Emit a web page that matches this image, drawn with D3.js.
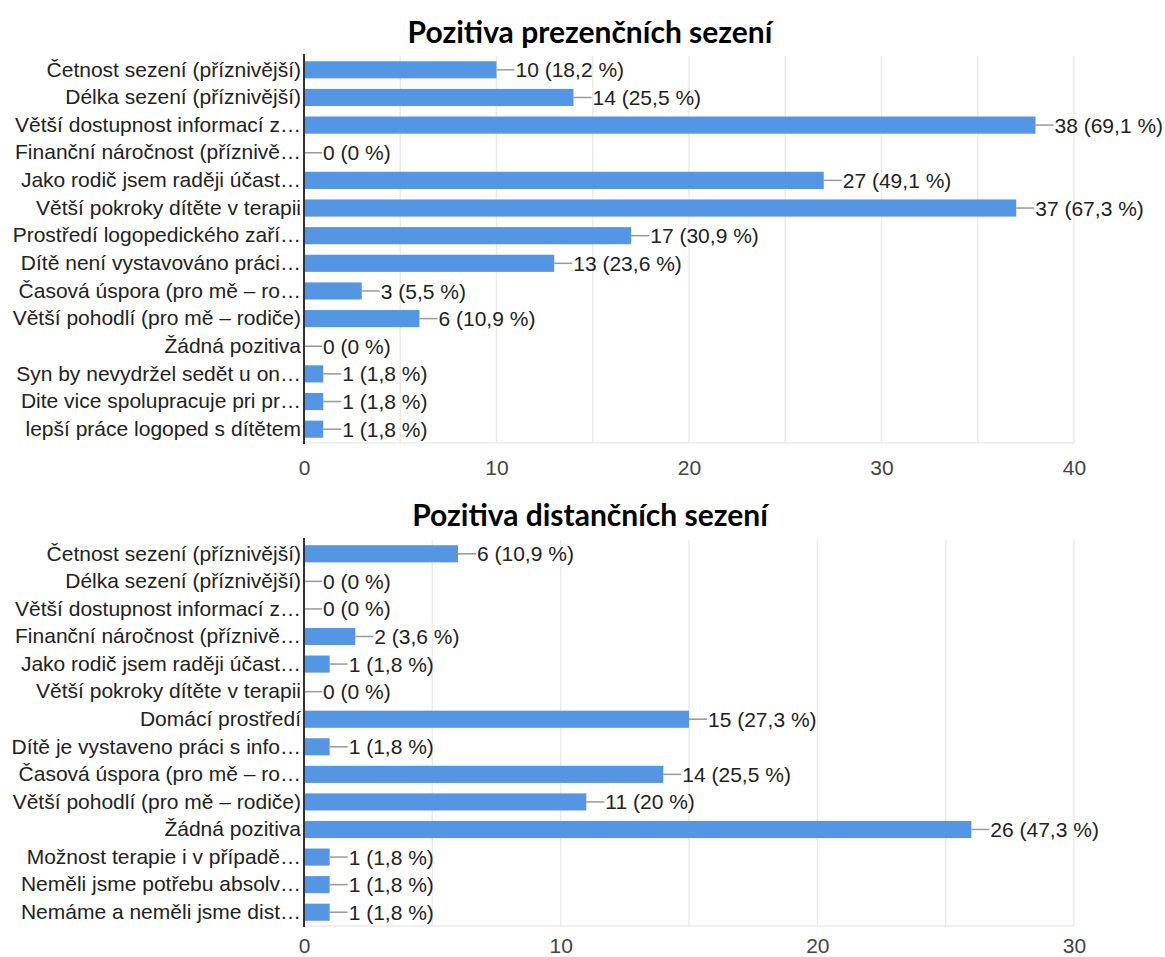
<!DOCTYPE html>
<html>
<head>
<meta charset="utf-8">
<script src="https://cdn.jsdelivr.net/npm/d3@7"></script>
<style>
  html, body { margin: 0; padding: 0; background: #ffffff; }
  svg { display: block; }
  .lbl { font-family: "Liberation Sans", Arimo, Arial, sans-serif; }
  .ttl { font-family: Lato, "Open Sans", sans-serif; font-weight: 700; }
</style>
</head>
<body>
<svg id="chart" width="1165" height="957"></svg>
<script>
// ---------- DATA ----------
const titlePrez = "Pozitiva prezenčních sezení";
const categoriesPrez = [
  "Četnost sezení (příznivější)",
  "Délka sezení (příznivější)",
  "Větší dostupnost informací z…",
  "Finanční náročnost (příznivě…",
  "Jako rodič jsem raději účast…",
  "Větší pokroky dítěte v terapii",
  "Prostředí logopedického zaří…",
  "Dítě není vystavováno práci…",
  "Časová úspora (pro mě – ro…",
  "Větší pohodlí (pro mě – rodiče)",
  "Žádná pozitiva",
  "Syn by nevydržel sedět u on…",
  "Dite vice spolupracuje pri pr…",
  "lepší práce logoped s dítětem"
];
const valuesPrez = [10, 14, 38, 0, 27, 37, 17, 13, 3, 6, 0, 1, 1, 1];
const percentPrez = ["18,2", "25,5", "69,1", "0", "49,1", "67,3", "30,9", "23,6", "5,5", "10,9", "0", "1,8", "1,8", "1,8"];
const ticksPrez = [0, 10, 20, 30, 40];

const titleDist = "Pozitiva distančních sezení";
const categoriesDist = [
  "Četnost sezení (příznivější)",
  "Délka sezení (příznivější)",
  "Větší dostupnost informací z…",
  "Finanční náročnost (příznivě…",
  "Jako rodič jsem raději účast…",
  "Větší pokroky dítěte v terapii",
  "Domácí prostředí",
  "Dítě je vystaveno práci s info…",
  "Časová úspora (pro mě – ro…",
  "Větší pohodlí (pro mě – rodiče)",
  "Žádná pozitiva",
  "Možnost terapie i v případě…",
  "Neměli jsme potřebu absolv…",
  "Nemáme a neměli jsme dist…"
];
const valuesDist = [6, 0, 0, 2, 1, 0, 15, 1, 14, 11, 26, 1, 1, 1];
const percentDist = ["10,9", "0", "0", "3,6", "1,8", "0", "27,3", "1,8", "25,5", "20", "47,3", "1,8", "1,8", "1,8"];
const ticksDist = [0, 10, 20, 30];

// ---------- DRAW ----------
const svg = d3.select("#chart");
const BAR = "#5596e4";
const FS = 21;

function drawChart(cfg) {
  const g = svg.append("g");
  const x = d3.scaleLinear().domain([0, d3.max(cfg.ticks)]).range([cfg.left, cfg.right]);
  const y = d3.scaleBand().domain(cfg.categories).range([cfg.top, cfg.bottom])
    .paddingInner(0.38).paddingOuter(0.19);

  // title
  g.append("text")
    .attr("class", "ttl")
    .attr("x", cfg.titleX).attr("y", cfg.titleY)
    .attr("text-anchor", "middle")
    .attr("font-size", 30)
    .attr("fill", "#000")
    .text(cfg.title);

  // gridlines every 5
  const gridVals = d3.range(5, d3.max(cfg.ticks) + 0.001, 5);
  g.append("g").selectAll("line").data(gridVals).join("line")
    .attr("x1", d => x(d)).attr("x2", d => x(d))
    .attr("y1", cfg.top).attr("y2", cfg.bottom)
    .attr("stroke", "#ebebeb").attr("stroke-width", 1.5);
  // bottom border
  g.append("line")
    .attr("x1", cfg.left).attr("x2", cfg.right)
    .attr("y1", cfg.bottom).attr("y2", cfg.bottom)
    .attr("stroke", "#ebebeb").attr("stroke-width", 1.5);

  // bars
  const rows = cfg.categories.map((c, i) => ({ c, v: cfg.values[i], p: cfg.percent[i] }));
  g.append("g").selectAll("rect").data(rows).join("rect")
    .attr("x", x(0)).attr("y", d => y(d.c))
    .attr("width", d => x(d.v) - x(0))
    .attr("height", y.bandwidth())
    .attr("fill", BAR);

  // leader lines + value labels
  g.append("g").selectAll("line").data(rows).join("line")
    .attr("x1", d => x(d.v)).attr("x2", d => x(d.v) + 18)
    .attr("y1", d => y(d.c) + y.bandwidth() / 2)
    .attr("y2", d => y(d.c) + y.bandwidth() / 2)
    .attr("stroke", "#999").attr("stroke-width", 1.5);
  g.append("g").selectAll("text").data(rows).join("text")
    .attr("class", "lbl")
    .attr("x", d => x(d.v) + 19)
    .attr("y", d => y(d.c) + y.bandwidth() / 2)
    .attr("dy", "0.36em")
    .attr("font-size", FS)
    .attr("fill", "#222")
    .text(d => `${d.v} (${d.p} %)`);

  // category axis
  const yAxis = d3.axisLeft(y).tickSize(0).tickPadding(3);
  const ya = g.append("g").attr("transform", `translate(${cfg.left},0)`).call(yAxis);
  ya.attr("font-family", null).attr("font-size", null);
  ya.select(".domain").remove();
  ya.selectAll("text")
    .attr("class", "lbl")
    .attr("font-size", FS)
    .attr("fill", "#222");
  g.append("line")
    .attr("x1", cfg.left).attr("x2", cfg.left)
    .attr("y1", cfg.top - 2).attr("y2", cfg.bottom + 1)
    .attr("stroke", "#333").attr("stroke-width", 2);

  // value axis
  const xAxis = d3.axisBottom(x).tickValues(cfg.ticks).tickSize(0).tickPadding(0).tickFormat(d3.format("d"));
  const xa = g.append("g").attr("transform", `translate(0,${cfg.tickY})`).call(xAxis);
  xa.attr("font-family", null).attr("font-size", null);
  xa.select(".domain").remove();
  xa.selectAll("text")
    .attr("class", "lbl")
    .attr("font-size", FS)
    .attr("fill", "#444")
    .attr("dy", "0.36em");
}

drawChart({
  title: titlePrez, titleX: 590, titleY: 43,
  categories: categoriesPrez, values: valuesPrez, percent: percentPrez, ticks: ticksPrez,
  left: 304, right: 1074, top: 56, bottom: 443, tickY: 467
});
drawChart({
  title: titleDist, titleX: 590, titleY: 526,
  categories: categoriesDist, values: valuesDist, percent: percentDist, ticks: ticksDist,
  left: 304, right: 1074, top: 540, bottom: 926, tickY: 945
});
</script>
</body>
</html>
